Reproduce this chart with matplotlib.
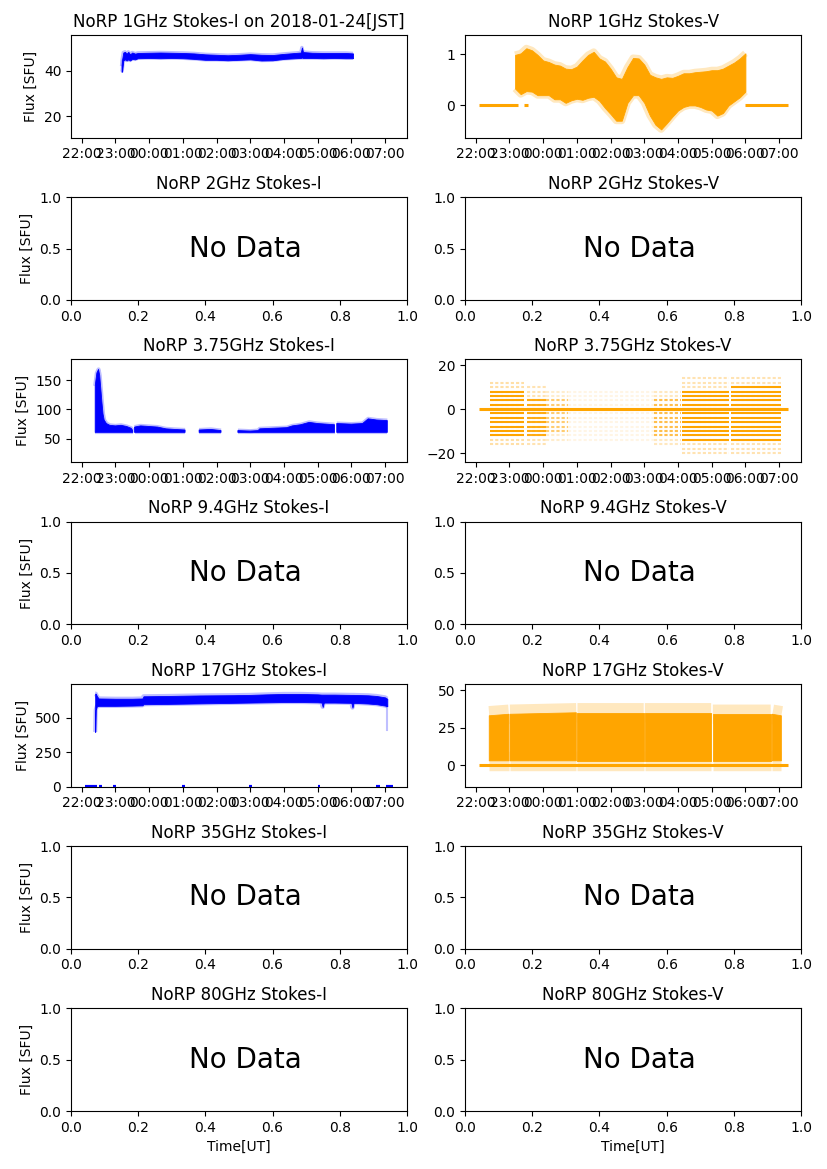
import numpy as np
import matplotlib
matplotlib.use('Agg')
import matplotlib.pyplot as plt
import matplotlib.dates as mdates
from datetime import datetime

# --- Data (UT times) ---
bands = ['1GHz', '2GHz', '3.75GHz', '9.4GHz', '17GHz', '35GHz', '80GHz']
obs_date = '2018-01-24'

# 1GHz Stokes-I : core band lower / upper edge
t_1i = ['23:11', '23:12', '23:14', '23:17', '23:20', '23:23', '23:26', '23:30', '23:35', '23:40',
        '00:00', '00:20', '00:40', '01:00', '01:20', '01:40', '02:00', '02:20', '02:40', '03:00',
        '03:20', '03:40', '04:00', '04:20', '04:30', '04:32', '04:34', '04:50', '05:10', '05:30',
        '05:50', '06:03']
lo_1i = [39.5, 40.0, 44.5, 45.0, 44.5, 45.0, 44.5, 45.2, 45.0, 45.5,
         45.6, 45.5, 45.6, 45.5, 45.2, 44.8, 44.8, 44.6, 44.8, 45.0,
         44.5, 44.6, 45.2, 45.5, 45.6, 45.8, 45.6, 45.6, 45.5, 45.6,
         45.5, 45.5]
hi_1i = [42.0, 45.0, 48.0, 48.3, 47.5, 48.3, 47.2, 48.0, 47.5, 47.8,
         47.9, 48.0, 47.9, 47.8, 47.6, 47.2, 47.0, 46.8, 47.0, 47.3,
         47.0, 46.9, 47.4, 47.8, 48.0, 50.2, 48.2, 47.9, 47.8, 47.8,
         47.8, 47.6]

# 1GHz Stokes-V
t_1v = ['23:10', '23:20', '23:30', '23:40', '23:50', '00:00', '00:10', '00:20', '00:30', '00:40',
        '00:50', '01:00', '01:10', '01:20', '01:30', '01:40', '01:50', '02:00', '02:10', '02:20',
        '02:30', '02:40', '02:50', '03:00', '03:10', '03:20', '03:30', '03:40', '03:50', '04:00',
        '04:10', '04:20', '04:30', '04:40', '04:50', '05:00', '05:10', '05:20', '05:30', '05:40',
        '05:50', '06:00']
lo_1v = [0.33, 0.22, 0.28, 0.27, 0.20, 0.20, 0.20, 0.12, 0.12, 0.05,
         0.10, 0.13, 0.11, 0.15, 0.17, 0.09, -0.05, -0.17, -0.30, -0.30,
         0.05, 0.20, 0.20, 0.05, -0.20, -0.38, -0.47, -0.35, -0.22, -0.10,
         -0.03, 0.00, 0.00, -0.03, -0.08, -0.10, -0.20, -0.15, 0.00, 0.08,
         0.16, 0.27]
hi_1v = [0.99, 1.02, 1.12, 1.08, 0.99, 0.88, 0.85, 0.80, 0.78, 0.72,
         0.71, 0.76, 0.88, 0.99, 1.05, 0.92, 0.86, 0.72, 0.55, 0.52,
         0.75, 0.93, 0.92, 0.80, 0.60, 0.55, 0.52, 0.55, 0.54, 0.58,
         0.63, 0.63, 0.65, 0.66, 0.67, 0.69, 0.69, 0.72, 0.78, 0.84,
         0.92, 1.02]
zero_1v_start = ['22:06', '23:26', '05:59']
zero_1v_end = ['23:15', '23:33', '07:15']

# 3.75GHz Stokes-I (nan = gap)
nan = np.nan
t_3i = ['22:24', '22:27', '22:30', '22:32', '22:34', '22:36', '22:38', '22:40', '22:44', '22:50',
        '23:00', '23:10', '23:20', '23:28', '23:31', '23:32', '23:34', '23:45', '00:00', '00:15',
        '00:30', '00:45', '01:04', '01:06', '01:29', '01:50', '02:08', '02:10', '02:38', '03:00',
        '03:14', '03:17', '03:40', '04:05', '04:15', '04:30', '04:45', '05:00', '05:15', '05:30',
        '05:31', '05:34', '06:00', '06:20', '06:30', '06:45', '07:04']
hi_3i = [140, 162, 168, 158, 135, 112, 92, 82, 76, 73,
         72, 73, 71, 68, 64, nan, 70, 72, 71, 70,
         67, 66, 65, nan, 65, 66, 64, nan, 64, 63,
         64, 67, 68, 69, 72, 74, 78, 76, 75, 74,
         nan, 76, 75, 76, 84, 82, 81]
lo_3i = [61 if not np.isnan(v) else nan for v in hi_3i]

# 3.75GHz Stokes-V : quantised levels, blocks of points
v3_start = ['22:26', '22:26', '23:31', '23:31', '00:05', '00:05', '00:44', '03:17', '03:17',
            '04:07', '04:07', '05:35', '05:35']
v3_end = ['23:26', '23:26', '00:05', '00:05', '00:44', '00:44', '03:17', '04:05', '04:05',
          '05:31', '05:31', '07:04', '07:04']
v3_lo = [-12, -16, -12, -16, -10, -14, -14, -12, -16, -14, -20, -14, -20]
v3_hi = [8, 12, 4, 10, 4, 8, 8, 4, 8, 8, 14, 10, 14]
v3_density = [1.0, 0.35, 0.9, 0.3, 0.45, 0.2, 0.1, 0.6, 0.25, 1.0, 0.3, 1.0, 0.3]

# 17GHz Stokes-I
t_17i = ['22:24', '22:25', '22:27', '22:30', '23:00', '23:30', '23:48', '23:50', '00:30', '01:00',
         '01:30', '02:00', '02:30', '03:00', '03:30', '04:00', '04:30', '05:00', '05:07', '05:09',
         '05:11', '05:30', '06:00', '06:02', '06:04', '06:30', '06:45', '07:00', '07:04']
lo_17i = [398, 560, 585, 588, 588, 590, 592, 600, 602, 604,
          606, 608, 610, 612, 614, 616, 616, 614, 612, 580,
          612, 612, 610, 575, 610, 605, 600, 590, 585]
hi_17i = [677, 677, 660, 642, 640, 640, 642, 658, 660, 662,
          664, 665, 666, 668, 672, 675, 675, 672, 670, 670,
          670, 670, 668, 668, 668, 665, 660, 650, 640]
zero_17_start = ['22:06', '22:31', '22:56', '00:58', '02:58', '05:00', '06:44', '07:01']
zero_17_end = ['22:27', '22:37', '23:01', '01:03', '03:04', '05:05', '06:51', '07:15']

# 17GHz Stokes-V
t_17v = ['22:24', '22:59', '23:00', '23:01', '00:59', '01:00', '01:01', '02:00', '02:59', '03:00',
         '03:01', '04:00', '04:59', '05:00', '05:02', '06:45', '06:46', '06:48', '07:04']
lo_17v = [3, 3, nan, 3, 3, nan, 3, 3, 3, nan, 3, 3, 3, nan, 3, 3, nan, 3, 3]
hi_17v = [33, 34, nan, 34, 35, nan, 35, 35, 35, nan, 35, 35, 35, nan, 34, 34, nan, 34, 33]
zero_17v_start = ['22:06']
zero_17v_end = ['07:15']


def ut(s):
    h, m = map(int, s.split(':'))
    day = 23 if h >= 12 else 24
    return mdates.date2num(datetime(2018, 1, day, h, m))


def tt(lst):
    return np.array([ut(s) for s in lst])


x_range = (mdates.date2num(datetime(2018, 1, 23, 21, 41)),
           mdates.date2num(datetime(2018, 1, 24, 7, 39)))

fig, axes = plt.subplots(7, 2, figsize=(8.27, 11.69))
fig.subplots_adjust(left=0.0859, right=0.9686, top=0.9701, bottom=0.0496,
                    wspace=0.173, hspace=0.581)


def time_axis(ax):
    ax.set_xlim(*x_range)
    ax.xaxis_date()
    ax.xaxis.set_major_locator(mdates.HourLocator())
    ax.xaxis.set_major_formatter(mdates.DateFormatter('%H:%M'))


def band(ax, t, lo, hi, color, edge_lw):
    x = tt(t)
    lo = np.array(lo, dtype=float)
    hi = np.array(hi, dtype=float)
    for y in (lo, hi):
        ax.plot(x, y, color=color, lw=edge_lw, alpha=0.25, solid_capstyle='butt')
    ax.fill_between(x, lo, hi, color=color, lw=0.6)


def zero_line(ax, starts, ends, color, lw):
    for s, e in zip(starts, ends):
        ax.plot([ut(s), ut(e)], [0, 0], color=color, lw=lw, solid_capstyle='butt')


# --- Titles / no-data panels ---
for i, b in enumerate(bands):
    axes[i, 0].set_title('NoRP ' + b + ' Stokes-I')
    axes[i, 1].set_title('NoRP ' + b + ' Stokes-V')
    axes[i, 0].set_ylabel('Flux [SFU]')
    if b not in ('1GHz', '3.75GHz', '17GHz'):
        for ax in axes[i]:
            ax.text(0.35, 0.5, 'No Data', fontsize=20, va='center', transform=ax.transAxes)
axes[0, 0].set_title('NoRP 1GHz Stokes-I on ' + obs_date + '[JST]')
axes[6, 0].set_xlabel('Time[UT]')
axes[6, 1].set_xlabel('Time[UT]')

# --- 1GHz ---
ax = axes[0, 0]
band(ax, t_1i, lo_1i, hi_1i, 'blue', 2.5)
time_axis(ax)
ax.set_ylim(10.7, 55.7)
ax.set_yticks([20, 40])

ax = axes[0, 1]
zero_line(ax, zero_1v_start, zero_1v_end, 'orange', 2.2)
band(ax, t_1v, lo_1v, hi_1v, 'orange', 5)
time_axis(ax)
ax.set_ylim(-0.63, 1.38)
ax.set_yticks([0, 1])

# --- 3.75GHz ---
ax = axes[2, 0]
band(ax, t_3i, lo_3i, hi_3i, 'blue', 3)
time_axis(ax)
ax.set_ylim(10.5, 185)
ax.set_yticks([50, 100, 150])

ax = axes[2, 1]
for s, e, lo, hi, d in zip(v3_start, v3_end, v3_lo, v3_hi, v3_density):
    levels = np.arange(lo, hi + 1, 2)
    ls = '-' if d >= 0.9 else (0, (1.5, 1.0))
    ax.hlines(levels, ut(s), ut(e), color='orange', lw=1.5, alpha=min(d, 1.0), linestyles=ls)
zero_line(ax, ['22:06'], ['07:15'], 'orange', 2.2)
time_axis(ax)
ax.set_ylim(-24.1, 22.6)
ax.set_yticks([-20, 0, 20])

# --- 17GHz ---
ax = axes[4, 0]
band(ax, t_17i, lo_17i, hi_17i, 'blue', 3)
ax.plot([ut('07:03'), ut('07:03')], [410, 590], color='blue', lw=1.5, alpha=0.25)
zero_line(ax, zero_17_start, zero_17_end, 'blue', 3)
time_axis(ax)
ax.set_ylim(0, 748)
ax.set_yticks([0, 250, 500])

ax = axes[4, 1]
band(ax, t_17v, lo_17v, hi_17v, 'orange', 14)
zero_line(ax, zero_17v_start, zero_17v_end, 'orange', 2.2)
time_axis(ax)
ax.set_ylim(-14.1, 54.2)
ax.set_yticks([0, 25, 50])

plt.savefig('out.png', dpi=100)
